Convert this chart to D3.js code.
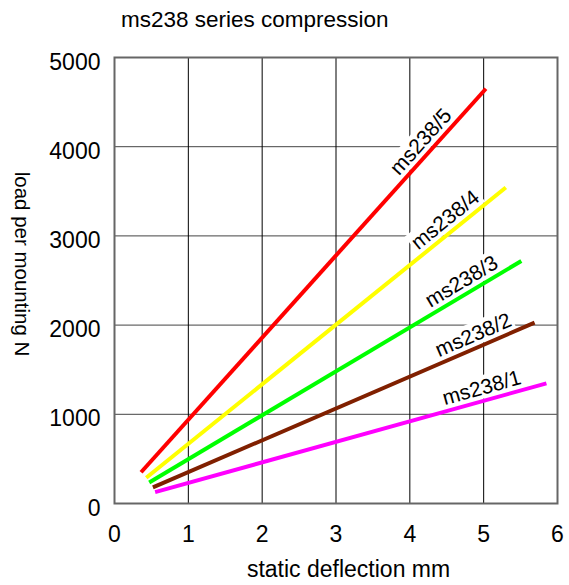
<!DOCTYPE html>
<html>
<head>
<meta charset="utf-8">
<script src="https://cdn.jsdelivr.net/npm/d3@7"></script>
<style>
  body { margin: 0; background: #fff; }
  text { font-family: "Liberation Sans", Arial, sans-serif; fill: #000; }
</style>
</head>
<body>
<div class="chart"></div>
<script>
// series: straight lines, start and end points
var names   = ["ms238/1", "ms238/2", "ms238/3", "ms238/4", "ms238/5"];
var colors  = ["#ff00ff", "#802000", "#00ff00", "#ffff00", "#ff0000"];
var startX  = [0.55, 0.52, 0.47, 0.43, 0.36];
var startY  = [127, 180, 236, 288, 350];
var endX    = [5.85, 5.69, 5.51, 5.30, 5.03];
var endY    = [1347, 2027, 2719, 3542, 4650];
var labelAt = [5.02, 4.93, 4.79, 4.59, 4.28];   // x position of label along the line

var xTicks = [0, 1, 2, 3, 4, 5, 6];
var yTicks = [0, 1000, 2000, 3000, 4000, 5000];

var W = 569, H = 585;
var margin = {top: 57.5, right: 11.5, bottom: 81.5, left: 114.5};
var width = W - margin.left - margin.right,
    height = H - margin.top - margin.bottom;

var svg = d3.select(".chart").append("svg")
    .attr("width", W)
    .attr("height", H);

var x = d3.scaleLinear().domain([0, 6]).range([0, width]);
var y = d3.scaleLinear().domain([0, 5000]).range([height, 0]);

var g = svg.append("g")
    .attr("transform", "translate(" + margin.left + "," + margin.top + ")");

// grid
g.selectAll(".hgrid")
    .data(yTicks)
  .enter().append("line")
    .attr("x1", 0).attr("x2", width)
    .attr("y1", d => y(d)).attr("y2", d => y(d))
    .attr("stroke", "#444").attr("stroke-width", 1);

g.selectAll(".vgrid")
    .data(xTicks)
  .enter().append("line")
    .attr("x1", d => x(d)).attr("x2", d => x(d))
    .attr("y1", 0).attr("y2", height)
    .attr("stroke", "#000").attr("stroke-width", 1);

g.append("rect")
    .attr("width", width).attr("height", height)
    .attr("fill", "none")
    .attr("stroke", "#666").attr("stroke-width", 2);

// tick labels
g.selectAll(".ylab")
    .data(yTicks)
  .enter().append("text")
    .attr("x", -14)
    .attr("y", d => y(d) + 4)
    .attr("dy", "0.35em")
    .attr("text-anchor", "end")
    .attr("font-size", "23px")
    .text(d => d);

g.selectAll(".xlab")
    .data(xTicks)
  .enter().append("text")
    .attr("x", d => x(d))
    .attr("y", height + 38)
    .attr("text-anchor", "middle")
    .attr("font-size", "23px")
    .text(d => d);

// titles
svg.append("text")
    .attr("x", 121).attr("y", 27)
    .attr("font-size", "22.5px")
    .text("ms238 series compression");

svg.append("text")
    .attr("x", margin.left + x(3.17)).attr("y", 577)
    .attr("text-anchor", "middle")
    .attr("font-size", "23px")
    .text("static deflection mm");

svg.append("text")
    .attr("transform", "translate(15,264) rotate(90)")
    .attr("text-anchor", "middle")
    .attr("font-size", "20.5px")
    .text("load per mounting N");

// labels with white box, drawn before the lines
names.forEach(function(name, i) {
  var x0 = x(startX[i]), y0 = y(startY[i]), x1 = x(endX[i]), y1 = y(endY[i]);
  var ang = Math.atan2(y1 - y0, x1 - x0);
  var t = (x(labelAt[i]) - x0) / (x1 - x0);
  var px = x0 + t * (x1 - x0), py = y0 + t * (y1 - y0);
  var off = 13.5;
  var cx = px + off * Math.sin(ang), cy = py - off * Math.cos(ang);
  var lg = g.append("g")
      .attr("transform", "translate(" + cx + "," + cy + ") rotate(" + (ang * 180 / Math.PI) + ")");
  var box = lg.append("rect").attr("fill", "#fff");
  var txt = lg.append("text")
      .attr("text-anchor", "middle")
      .attr("dy", "0.35em")
      .attr("font-size", "21px")
      .text(name);
  var b = txt.node().getBBox();
  box.attr("x", b.x - 2).attr("y", b.y).attr("width", b.width + 4).attr("height", b.height);
});

// lines
g.selectAll(".series")
    .data(names)
  .enter().append("line")
    .attr("x1", (d, i) => x(startX[i]))
    .attr("y1", (d, i) => y(startY[i]))
    .attr("x2", (d, i) => x(endX[i]))
    .attr("y2", (d, i) => y(endY[i]))
    .attr("stroke", (d, i) => colors[i])
    .attr("stroke-width", 4);
</script>
</body>
</html>
